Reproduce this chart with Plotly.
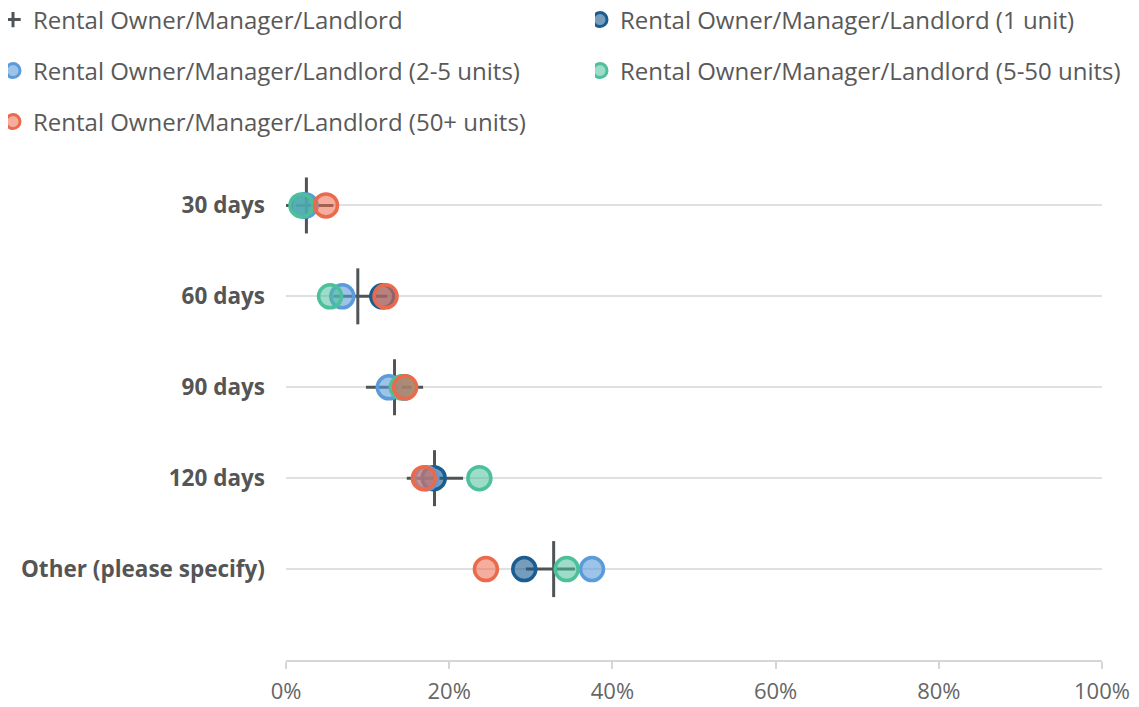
import plotly.graph_objects as go

categories = ["30 days", "60 days", "90 days", "120 days", "Other (please specify)"]
series_names = [
    "Rental Owner/Manager/Landlord",
    "Rental Owner/Manager/Landlord (1 unit)",
    "Rental Owner/Manager/Landlord (2-5 units)",
    "Rental Owner/Manager/Landlord (5-50 units)",
    "Rental Owner/Manager/Landlord (50+ units)",
]
overall = [2.5, 8.8, 13.3, 18.2, 32.8]
overall_low = [-0.9, 5.8, 9.8, 14.8, 29.4]
overall_high = [5.8, 12.4, 16.8, 21.7, 35.4]
one_unit = [2.3, 11.8, 14.5, 18.1, 29.2]
two_five_units = [2.4, 6.9, 12.6, 17.2, 37.5]
five_fifty_units = [1.9, 5.4, 14.2, 23.7, 34.4]
fifty_plus_units = [4.9, 12.2, 14.6, 16.9, 24.5]
x_ticks = [0, 20, 40, 60, 80, 100]

FONT = "Open Sans"
CROSS = "#4f5457"
colors = {
    "one": ("#1b5d90", "rgba(27,93,144,0.6)"),
    "two": ("#5b9bd9", "rgba(91,155,217,0.6)"),
    "five": ("#4cc09a", "rgba(76,192,154,0.55)"),
    "fifty": ("#ec6a4c", "rgba(236,106,76,0.55)"),
}

ypos = list(range(len(categories)))
fig = go.Figure()

# overall: vertical line marker + horizontal bar
fig.add_trace(go.Scatter(
    x=overall, y=ypos, mode="markers", showlegend=False, cliponaxis=False,
    marker=dict(symbol="line-ns", size=40, line=dict(color=CROSS, width=3)),
    error_x=dict(type="data", symmetric=False,
                 array=[h - v for h, v in zip(overall_high, overall)],
                 arrayminus=[v - l for v, l in zip(overall, overall_low)],
                 color=CROSS, thickness=3, width=0),
    hoverinfo="x+y",
))

groups = [
    (one_unit, "one", series_names[1]),
    (two_five_units, "two", series_names[2]),
    (five_fifty_units, "five", series_names[3]),
    (fifty_plus_units, "fifty", series_names[4]),
]
for vals, key, name in groups:
    line_c, fill_c = colors[key]
    fig.add_trace(go.Scatter(
        x=vals, y=ypos, mode="markers", name=name, showlegend=False, cliponaxis=False,
        marker=dict(symbol="circle", size=23, color=fill_c, line=dict(color=line_c, width=3.5)),
    ))

# legend entries
legend_ids = ["legend", "legend2", "legend3", "legend4", "legend5"]
fig.add_trace(go.Scatter(
    x=[None], y=[None], mode="markers", name=series_names[0], legend="legend",
    marker=dict(symbol="cross-thin", size=11, color=CROSS, line=dict(color=CROSS, width=3)),
))
for (vals, key, name), lid in zip(groups, legend_ids[1:]):
    line_c, fill_c = colors[key]
    fig.add_trace(go.Scatter(
        x=[None], y=[None], mode="markers", name=name, legend=lid,
        marker=dict(symbol="circle", size=14, color=fill_c, line=dict(color=line_c, width=3)),
    ))

W = 1131
H = 699
ML, MR, MT, MB = 278, 37, 152, 47
row_y = [12, 63, 114]
col_px = [0, 587]
placements = [(0, 0), (1, 0), (0, 1), (1, 1), (0, 2)]
leg_font = dict(family=FONT, size=24, color="#595959")
layout_legends = {}
for lid, (c, r) in zip(legend_ids, placements):
    layout_legends[lid] = dict(
        x=col_px[c] / W, y=1 - row_y[r] / H, xref="container", yref="container",
        xanchor="left", yanchor="middle", font=leg_font, bgcolor="rgba(0,0,0,0)",
        borderwidth=0, itemsizing="trace", indentation=-15, orientation="h",
    )

fig.update_layout(
    width=W, height=H,
    margin=dict(l=ML, r=MR, t=MT, b=MB, autoexpand=False),
    plot_bgcolor="white", paper_bgcolor="white",
    font=dict(family=FONT),
    **layout_legends,
    xaxis=dict(
        range=[0, 100], tickvals=x_ticks, ticktext=[f"{v}%" for v in x_ticks],
        showgrid=False, zeroline=False, showline=True, linecolor="#d6d6d6", linewidth=2,
        ticks="outside", ticklen=7, tickwidth=2, tickcolor="#d6d6d6", ticklabelstandoff=4,
        tickfont=dict(family=FONT, size=22, color="#666666"),
    ),
    yaxis=dict(
        range=[5, -0.5], tickvals=ypos, ticktext=[f"<b>{c}</b>" for c in categories],
        showgrid=True, gridcolor="#e0e0e0", gridwidth=2, zeroline=False, showline=False,
        ticks="", ticklabelstandoff=20,
        tickfont=dict(family=FONT, size=22.5, color="#555555"),
    ),
)

fig.write_html("out.html")
